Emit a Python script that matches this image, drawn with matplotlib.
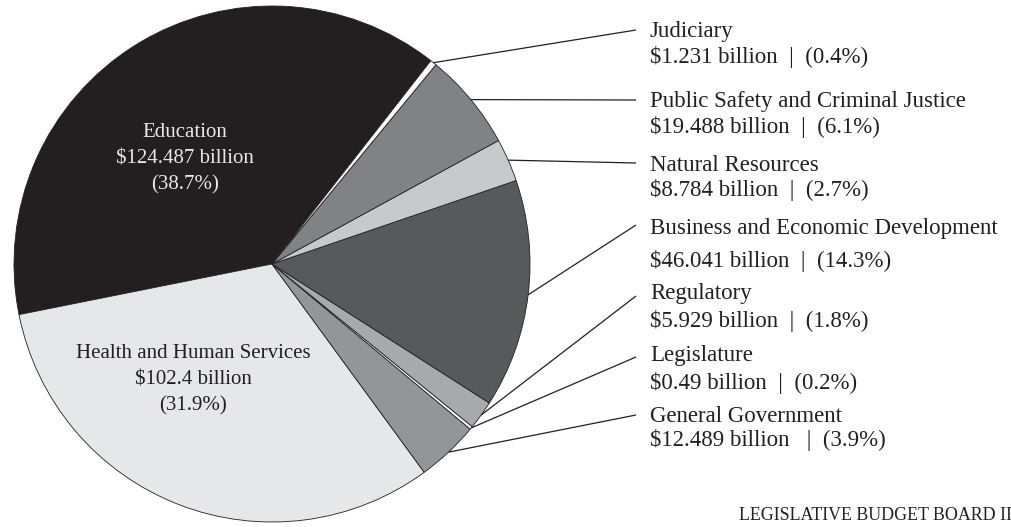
import matplotlib
matplotlib.use("Agg")
import matplotlib.pyplot as plt
import numpy as np

# ---- data (counterclockwise order starting with Education) ----
categories = ["Education", "Health and Human Services", "General Government",
              "Legislature", "Regulatory", "Business and Economic Development",
              "Natural Resources", "Public Safety and Criminal Justice", "Judiciary"]
amounts = [124.487, 102.4, 12.489, 0.49, 5.929, 46.041, 8.784, 19.488, 1.231]
amount_labels = ["$124.487", "$102.4", "$12.489", "$0.49", "$5.929", "$46.041",
                 "$8.784", "$19.488", "$1.231"]
percents = [38.7, 31.9, 3.9, 0.2, 1.8, 14.3, 2.7, 6.1, 0.4]
colors = ["#231f20", "#e6e7e8", "#939598", "#ffffff", "#a7a9ac", "#58595b",
          "#c8c9cb", "#808285", "#ffffff"]
footer = "LEGISLATIVE BUDGET BOARD II"

W, H = 1012, 527
fig = plt.figure(figsize=(W / 100, H / 100), dpi=100)
ax = fig.add_axes([0, 0, 1, 1])

def Y(ypix):
    return H - ypix

cx, cy, R = 272, 264, 258
wedges, _ = ax.pie(percents, colors=colors, startangle=52, counterclock=True,
                   center=(cx, Y(cy)), radius=R,
                   wedgeprops=dict(edgecolor="#231f20", linewidth=0.6))
ax.set_xlim(0, W)
ax.set_ylim(0, H)
ax.set_aspect("equal")
ax.axis("off")

FONT = ["Liberation Serif", "DejaVu Serif"]
TXT = "#231f20"
fs = 16.5

# inside labels
ins = {0: ((185, 132), "#e6e7e8"), 1: ((193, 353), TXT)}
for i, ((x, y), c) in ins.items():
    lines = [categories[i], f"{amount_labels[i]} billion", f"({percents[i]}%)"]
    for k, s in enumerate(lines):
        ax.text(x, Y(y + 26.5 * k), s, ha="center", va="center", color=c,
                fontsize=15, family=FONT)

# outside labels: index -> (title y, value y)
outside = {8: (31, 57), 7: (101, 127), 6: (165, 190), 5: (228, 261),
           4: (293, 321), 3: (355, 383), 2: (416, 440)}
line_end = {8: 30, 7: 100, 6: 163, 5: 225, 4: 296, 3: 357, 2: 415}
tx = 650
for i, (ty, vy) in outside.items():
    w = wedges[i]
    mid = np.deg2rad((w.theta1 + w.theta2) / 2)
    x0 = w.center[0] + w.r * np.cos(mid)
    y0 = w.center[1] + w.r * np.sin(mid)
    ax.plot([x0, 636], [y0, Y(line_end[i])], color="#231f20", lw=0.9,
            solid_capstyle="butt")
    ax.text(tx, Y(ty), categories[i], ha="left", va="center", color=TXT,
            fontsize=fs, family=FONT)
    sep = "  |  " if i != 2 else "   |  "
    ax.text(tx, Y(vy), f"{amount_labels[i]} billion{sep}({percents[i]}%)",
            ha="left", va="center", color=TXT, fontsize=fs, family=FONT)

ax.text(1012, Y(515), footer, ha="right", va="center", color=TXT,
        fontsize=12.9, family=FONT)

fig.savefig("out.png", dpi=100)
